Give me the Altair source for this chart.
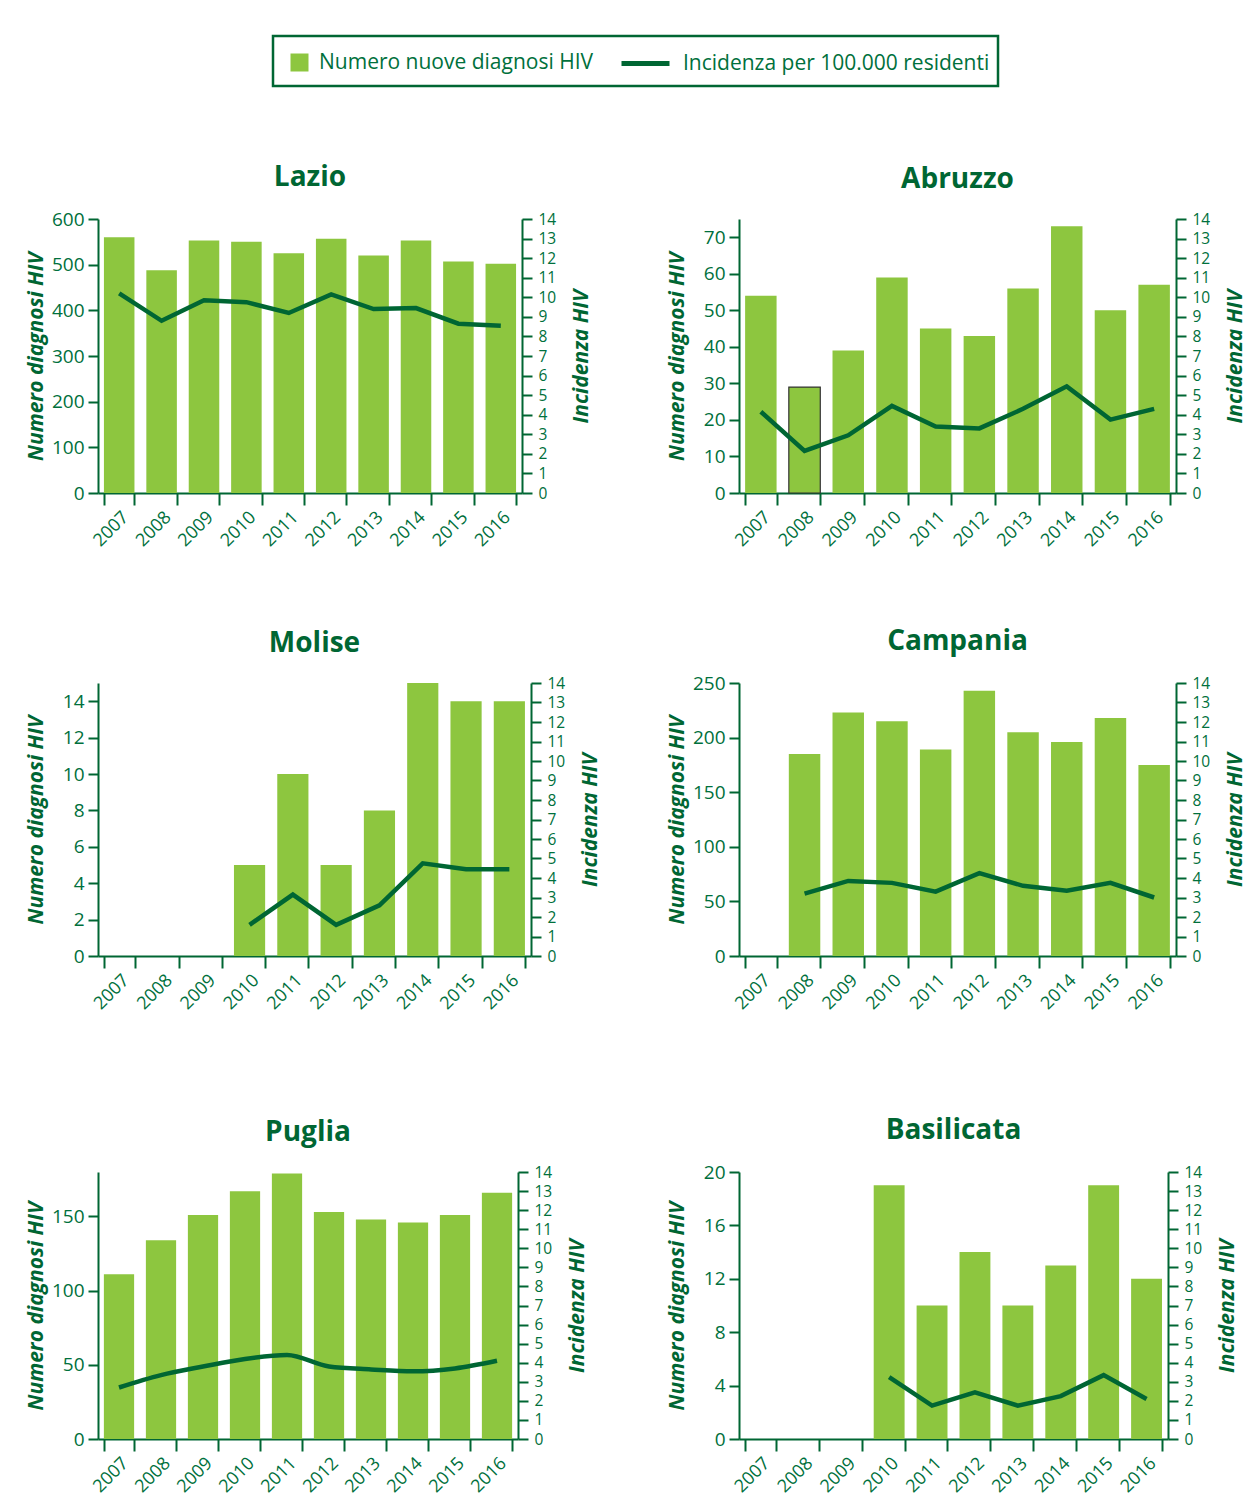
import altair as alt
import pandas as pd

anni = ["2007", "2008", "2009", "2010", "2011", "2012", "2013", "2014", "2015", "2016"]
serie = ["Numero nuove diagnosi HIV", "Incidenza per 100.000 residenti"]
colori = ["#8dc63f", "#006633"]

lazio_n = [560, 488, 553, 550, 525, 557, 520, 553, 507, 502]
lazio_inc = [10.2, 8.8, 9.85, 9.75, 9.2, 10.15, 9.4, 9.45, 8.65, 8.55]
abruzzo_n = [54, 29, 39, 59, 45, 43, 56, 73, 50, 57]
abruzzo_inc = [4.15, 2.15, 2.95, 4.45, 3.4, 3.3, 4.3, 5.45, 3.75, 4.3]
molise_n = [None, None, None, 5, 10, 5, 8, 15, 14, 14]
molise_inc = [None, None, None, 1.6, 3.15, 1.6, 2.6, 4.75, 4.45, 4.45]
campania_n = [None, 185, 223, 215, 189, 243, 205, 196, 218, 175]
campania_inc = [None, 3.2, 3.85, 3.75, 3.3, 4.25, 3.6, 3.35, 3.75, 3.0]
puglia_n = [111, 134, 151, 167, 179, 153, 148, 146, 151, 166]
puglia_inc = [2.7, 3.35, 3.8, 4.2, 4.4, 3.8, 3.65, 3.55, 3.7, 4.1]
basilicata_n = [None, None, None, 19, 10, 14, 10, 13, 19, 12]
basilicata_inc = [None, None, None, 3.25, 1.75, 2.45, 1.75, 2.25, 3.35, 2.1]

VERDE = "#006633"
TESTO = "#00703c"
FONT = "Open Sans"

# ---- legend chart (only legends, no visible marks) ----
leg_df = pd.DataFrame({"s_bar": [serie[0]], "s_line": [serie[1]]})
leg_base = alt.Chart(leg_df).transform_filter("false")
leg_bar = leg_base.mark_bar().encode(
    fill=alt.Fill("s_bar:N", scale=alt.Scale(domain=[serie[0]], range=[colori[0]]),
                  legend=alt.Legend(title=None, orient="none", legendX=16, legendY=16,
                                    symbolType="square", symbolSize=324, symbolStrokeWidth=0,
                                    symbolOpacity=1, labelOffset=9, labelFont=FONT,
                                    labelFontSize=21, labelColor=TESTO, labelLimit=600, padding=0)),
)
leg_line = leg_base.mark_line().encode(
    stroke=alt.Stroke("s_line:N", scale=alt.Scale(domain=[serie[1]], range=[colori[1]]),
                      legend=alt.Legend(title=None, orient="none", legendX=346, legendY=1,
                                        symbolType="stroke", symbolSize=2304, symbolStrokeWidth=5,
                                        symbolOpacity=1, labelOffset=11, labelFont=FONT,
                                        labelFontSize=21, labelColor=TESTO, labelLimit=600, padding=0)),
)
legenda = alt.layer(leg_bar, leg_line).properties(
    width=725, height=50,
    view=alt.ViewBackground(stroke=VERDE, strokeWidth=2.5),
)
spazio = alt.Chart(leg_df).mark_point().transform_filter("false").encode(
    x=alt.X("s_bar:N", axis=None)
).properties(width=152, height=50)
riga_legenda = alt.hconcat(spazio, legenda, spacing=20).resolve_scale(
    fill="independent", stroke="independent"
).resolve_legend(
    fill="independent", stroke="independent"
)


def pannello(nome, numeri, incidenza, ymax, ytick, larghezza, altezza, interp="linear", bordo=""):
    df = pd.DataFrame({"anno": anni, "numero": numeri, "incidenza": incidenza})

    xenc = alt.X(
        "anno:N", sort=anni,
        scale=alt.Scale(domain=anni, paddingInner=0.28, paddingOuter=0.14),
        axis=alt.Axis(title=None, labelAngle=-45, tickBand="extent", tickSize=12, tickWidth=2,
                      tickColor=VERDE, domainColor=VERDE, domainWidth=2, labelColor=TESTO,
                      labelFontSize=18, labelFont=FONT, labelPadding=3, labelOverlap=False),
    )
    barre = alt.Chart(df).mark_bar(strokeWidth=1.2, fill=colori[0]).encode(
        x=xenc,
        y=alt.Y("numero:Q", scale=alt.Scale(domain=[0, ymax], nice=False),
                axis=alt.Axis(title="Numero diagnosi HIV", orient="left", values=ytick, grid=False,
                              tickSize=10, tickWidth=2, tickColor=VERDE, domainColor=VERDE,
                              domainWidth=2, labelColor=TESTO, labelFontSize=19, labelFont=FONT,
                              labelPadding=4, titleFont=FONT, titleFontSize=21, titleFontWeight="bold",
                              titleFontStyle="italic", titleColor=VERDE, titlePadding=6,
                              minExtent=46, maxExtent=46)),
        stroke=alt.condition(alt.datum.anno == bordo, alt.value("#333333"), alt.value("transparent")),
    )
    linea = alt.Chart(df).mark_line(strokeWidth=4.5, interpolate=interp, color=colori[1]).encode(
        x=xenc,
        y=alt.Y("incidenza:Q", scale=alt.Scale(domain=[0, 14], nice=False),
                axis=alt.Axis(title="Incidenza HIV", orient="right", values=list(range(15)), grid=False,
                              tickSize=10, tickWidth=2, tickColor=VERDE, domainColor=VERDE,
                              domainWidth=2, labelColor=TESTO, labelFontSize=15.5, labelFont=FONT,
                              labelPadding=6, titleFont=FONT, titleFontSize=21, titleFontWeight="bold",
                              titleFontStyle="italic", titleColor=VERDE, titleAngle=270, titlePadding=23,
                              minExtent=46, maxExtent=46)),
    )
    return alt.layer(barre, linea).resolve_scale(y="independent").properties(
        width=larghezza, height=altezza,
        title=alt.TitleParams(nome, font=FONT, fontSize=28, fontWeight="bold", color=VERDE,
                              anchor="middle", frame="group", offset=18),
    )


p1 = pannello("Lazio", lazio_n, lazio_inc, 600, [0, 100, 200, 300, 400, 500, 600], 424, 274)
p2 = pannello("Abruzzo", abruzzo_n, abruzzo_inc, 75, [0, 10, 20, 30, 40, 50, 60, 70], 437, 274, bordo="2008")
p3 = pannello("Molise", molise_n, molise_inc, 15, [0, 2, 4, 6, 8, 10, 12, 14], 433, 273)
p4 = pannello("Campania", campania_n, campania_inc, 250, [0, 50, 100, 150, 200, 250], 437, 273)
p5 = pannello("Puglia", puglia_n, puglia_inc, 180, [0, 50, 100, 150], 420, 267, interp="monotone")
p6 = pannello("Basilicata", basilicata_n, basilicata_inc, 20, [0, 4, 8, 12, 16, 20], 429, 267)

riga1 = alt.hconcat(p1, p2, spacing=73)
riga2 = alt.hconcat(p3, p4, spacing=64)
riga3 = alt.hconcat(p5, p6, spacing=77)

chart = alt.vconcat(
    riga_legenda,
    alt.vconcat(alt.vconcat(riga1, riga2, spacing=76), riga3, spacing=102),
    spacing=75,
).resolve_scale(
    fill="independent", stroke="independent"
).resolve_legend(
    fill="independent", stroke="independent"
).properties(
    padding={"left": 16, "top": 26, "right": 0, "bottom": 0},
).configure_view(stroke="transparent")

chart.save("out.html", embed_options={"renderer": "svg", "actions": False})
